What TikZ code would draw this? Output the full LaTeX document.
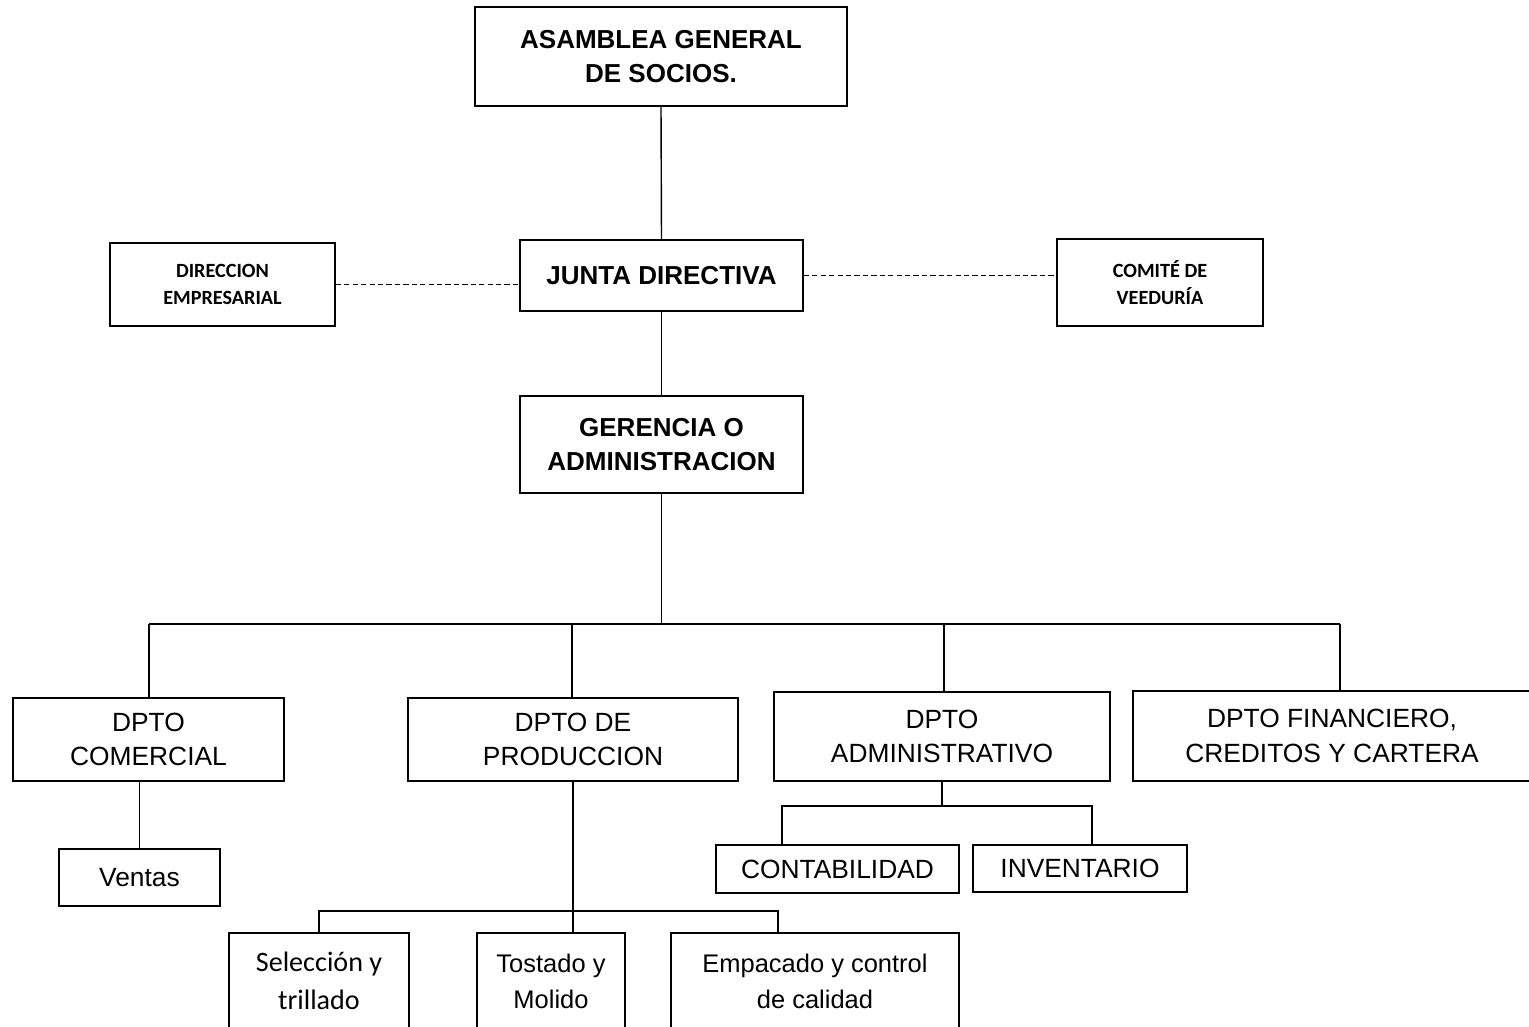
\documentclass[tikz,border=0pt]{standalone}
\usepackage{fontspec}
\setmainfont{Liberation Sans}
\newfontfamily\calibri{Carlito}
\usetikzlibrary{calc}
\newcommand{\boxw}{0.9pt}
\newcommand{\linew}{0.8pt}

\begin{document}
\begin{tikzpicture}[x=0.02cm,y=-0.02cm,
    unitbox/.style = {draw, line width=\boxw, align=center, inner sep=0pt},
    topbox/.style = {unitbox, font=\bfseries\fontsize{14.8}{19.8}\selectfont},
    sidebox/.style = {unitbox, font=\calibri\bfseries\fontsize{11.5}{15.5}\selectfont},
    dptobox/.style = {unitbox, font=\fontsize{15}{19.8}\selectfont},
    subbox/.style = {unitbox, font=\fontsize{14.5}{20.4}\selectfont},
    conn/.style = {line width=\linew},
    dashconn/.style = {conn, dash pattern=on 3pt off 1.8pt}]
    \useasboundingbox (0,0) rectangle (1529,1027);
    %\draw[help lines] (0,0) grid[step=100] (1529,1027);

    % top levels
    \node[topbox, minimum width=7.44cm, minimum height=1.98cm] (asamblea) at (661,56.5) {ASAMBLEA GENERAL\\DE SOCIOS.};
    \node[topbox, minimum width=5.66cm, minimum height=1.42cm] (junta) at (661.5,275.5) {JUNTA DIRECTIVA};
    \node[sidebox, minimum width=4.5cm, minimum height=1.66cm] (direccion) at (222.5,284.5) {DIRECCION\\EMPRESARIAL};
    \node[sidebox, minimum width=4.12cm, minimum height=1.74cm] (comite) at (1160,282.5) {COMITÉ DE\\VEEDURÍA};
    \node[topbox, minimum width=5.66cm, minimum height=1.94cm] (gerencia) at (661.5,444.5) {GERENCIA O\\ADMINISTRACION};

    % departamentos
    \node[dptobox, minimum width=5.42cm, minimum height=1.66cm] (comercial) at (148.5,739.5) {DPTO\\COMERCIAL};
    \node[dptobox, minimum width=6.6cm, minimum height=1.66cm] (produccion) at (573,739.5) {DPTO DE\\PRODUCCION};
    \node[dptobox, line width=1.4pt, minimum width=6.72cm, minimum height=1.78cm] (administrativo) at (942,736.5) {DPTO\\ADMINISTRATIVO};
    \node[dptobox, minimum width=7.96cm, minimum height=1.8cm] (financiero) at (1332,736) {DPTO FINANCIERO,\\CREDITOS Y CARTERA};

    % secciones
    \node[dptobox, minimum width=3.22cm, minimum height=1.14cm] (ventas) at (139.5,877.5) {Ventas};
    \node[dptobox, minimum width=4.86cm, minimum height=0.96cm] (contabilidad) at (837.5,869) {CONTABILIDAD};
    \node[dptobox, minimum width=4.28cm, minimum height=0.94cm] (inventario) at (1080,868.5) {INVENTARIO};
    \node[unitbox, font=\calibri\fontsize{16}{21.5}\selectfont, minimum width=3.6cm, minimum height=1.92cm] (seleccion) at (319,981) {Selección y\\trillado};
    \node[subbox, minimum width=2.96cm, minimum height=1.92cm] (tostado) at (551,981) {Tostado y\\Molido};
    \node[subbox, minimum width=5.76cm, minimum height=1.92cm] (empacado) at (815,981) {Empacado y control\\de calidad};

    \coordinate (bus) at (0,624);
    \coordinate (pbus) at (0,911);
    \coordinate (abus) at (0,806);
    \coordinate (empdrop) at (778,933);
    \coordinate (contdrop) at (782,845);
    \coordinate (invdrop) at (1092,845);

    % main line
    \draw[conn] (asamblea.south) -- (junta.north);
    \draw[conn] (junta.south) -- (gerencia.north);
    \draw[conn] (gerencia.south) -- (gerencia.south |- bus);
    \draw[dashconn] (direccion.east) -- (direccion.east -| junta.west);
    \draw[dashconn] (junta.east) -- (junta.east -| comite.west);
    \draw[conn] (149,0 |- bus) -- (1340,0 |- bus);
    \foreach \d/\x in {comercial/149,produccion/572,administrativo/944,financiero/1340}
        \draw[conn] (\x,0 |- bus) -- (\x,0 |- \d.north);

    % subordinates
    \draw[conn] (ventas.north |- comercial.south) -- (ventas.north);
    \draw[conn] (produccion.south) -- (produccion.south |- tostado.north);
    \draw[conn] (seleccion.north) -- (seleccion.north |- pbus) -- (empdrop |- pbus) -- (empdrop);
    \draw[conn] (administrativo.south) -- (administrativo.south |- abus);
    \draw[conn] (contdrop) -- (contdrop |- abus) -- (invdrop |- abus) -- (invdrop);
\end{tikzpicture}
\end{document}
